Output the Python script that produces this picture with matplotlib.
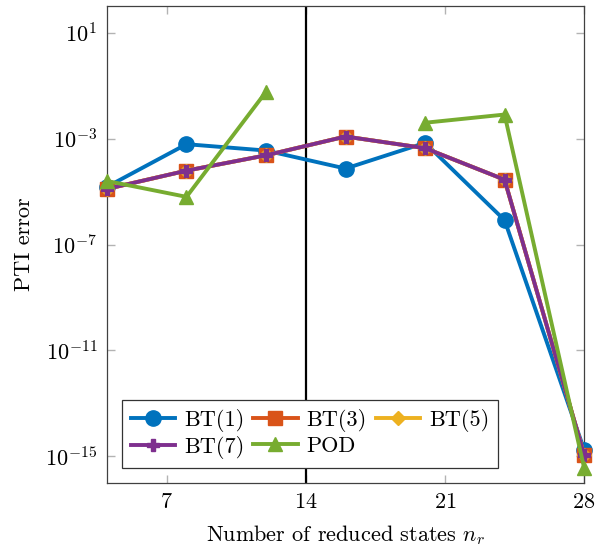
import numpy as np
import matplotlib
matplotlib.use('Agg')
import matplotlib.pyplot as plt

plt.rcParams['font.family'] = 'serif'
plt.rcParams['font.serif'] = ['cmr10']
plt.rcParams['mathtext.fontset'] = 'cm'
plt.rcParams['axes.formatter.use_mathtext'] = True
plt.rcParams['font.size'] = 16

# reduced orders
nr = [4, 8, 12, 16, 20, 24, 28]
# log10 of PTI error
bt1 = [-4.82, -3.21, -3.45, -4.13, -3.16, -6.08, -14.75]
bt3 = [-4.9, -4.21, -3.63, -2.92, -3.36, -4.55, -14.94]
bt5 = [-4.9, -4.21, -3.63, -2.92, -3.36, -4.55, -14.94]
bt7 = [-4.9, -4.21, -3.63, -2.92, -3.36, -4.55, -14.94]
pod = [-4.6, -5.2, -1.23, np.nan, -2.4, -2.09, -15.43]

series = [
    ('BT(1)', bt1, '#0072BD', 'o', 11),
    ('BT(3)', bt3, '#D95319', 's', 10),
    ('BT(5)', bt5, '#EDB120', 'D', 7),
    ('BT(7)', bt7, '#7E2F8E', 'P', 8),
    ('POD', pod, '#77AC30', '^', 10),
]

fig = plt.figure(figsize=(5.96, 5.47), dpi=100)
ax = fig.add_axes([0.1795, 0.1175, 0.8005, 0.871])

lines = {}
for name, vals, col, mk, ms in series:
    l, = ax.plot(nr, 10.0 ** np.array(vals), color=col, marker=mk, ms=ms, lw=2.8,
                 mec=col, mfc=col, label=name, clip_on=False, zorder=3)
    lines[name] = l

ax.axvline(14, color='k', lw=1.6, zorder=2)

ax.set_yscale('log')
ax.set_xlim(4, 28)
ax.set_ylim(1e-16, 1e2)
ax.set_xticks([7, 14, 21, 28])
ax.set_yticks([1e1, 1e-3, 1e-7, 1e-11, 1e-15])
ax.yaxis.set_minor_locator(matplotlib.ticker.NullLocator())
ax.tick_params(direction='in', length=6, width=1, color='0.7',
               top=True, right=True, labelsize=16, pad=7)
for s in ax.spines.values():
    s.set_color('0.25')
    s.set_linewidth(0.9)

ax.set_xlabel('Number of reduced states $n_r$', fontsize=16, labelpad=8)
ax.set_ylabel('PTI error', fontsize=16, labelpad=8)

# row-wise legend order
order = ['BT(1)', 'BT(7)', 'BT(3)', 'POD', 'BT(5)']
leg = ax.legend([lines[k] for k in order], order, ncol=3, loc='lower left',
                bbox_to_anchor=(0.031, 0.031),
                borderaxespad=0, fancybox=False, edgecolor='0.2',
                framealpha=1, fontsize=16, handlelength=2.0,
                columnspacing=0.4, handletextpad=0.4, labelspacing=0.2,
                borderpad=0.4)
leg.get_frame().set_linewidth(0.9)

fig.savefig('out.png', dpi=100)
